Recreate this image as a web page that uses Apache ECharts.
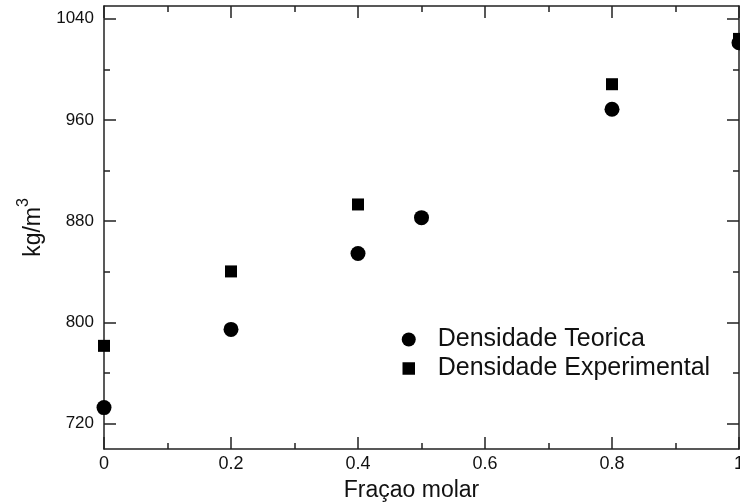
<!DOCTYPE html>
<html>
<head>
<meta charset="utf-8">
<script src="https://cdn.jsdelivr.net/npm/echarts@6/dist/echarts.min.js"></script>
<style>
  html, body { margin: 0; padding: 0; background: #fff; }
  #chart { width: 740px; height: 502px; }
</style>
</head>
<body>
<div id="chart"></div>
<script>
// dados
const fracao = [0, 0.2, 0.4, 0.5, 0.8, 1];
const densTeorica = [732.7, 794.5, 854.5, 882.8, 968.4, 1021];
const fracaoExp = [0, 0.2, 0.4, 0.8, 1];
const densExperimental = [781.5, 840.3, 893.2, 988.2, 1024];
const yMajor = [720, 800, 880, 960, 1040];
const yMinor = [760, 840, 920, 1000];

const font = "Liberation Sans";
const lineColor = "#222";

function yAx(pos, ticks, withLabels, len, showLine) {
  return {
    type: "value",
    position: pos,
    min: 700,
    max: 1050,
    splitLine: { show: false },
    axisLine: { show: showLine, lineStyle: { color: lineColor, width: 1.5 } },
    axisTick: {
      show: true,
      inside: true,
      length: len,
      customValues: ticks,
      lineStyle: { color: lineColor, width: 1.5 },
    },
    axisLabel: withLabels
      ? {
          show: true,
          customValues: ticks,
          formatter: (v) => String(v),
          color: "#111",
          fontSize: 17,
          fontFamily: font,
          margin: 10,
        }
      : { show: false },
  };
}

function xAx(pos, withLabels) {
  return {
    type: "value",
    position: pos,
    min: 0,
    max: 1,
    interval: 0.2,
    splitLine: { show: false },
    axisLine: { show: true, onZero: false, lineStyle: { color: lineColor, width: 1.5 } },
    axisTick: { show: true, inside: true, length: 12, lineStyle: { color: lineColor, width: 1.5 } },
    minorTick: { show: true, splitNumber: 2, length: 6, lineStyle: { color: lineColor, width: 1.5 } },
    axisLabel: withLabels
      ? { show: true, formatter: (v) => String(v), color: "#111", fontSize: 18, fontFamily: font, margin: 6 }
      : { show: false },
  };
}

const chart = echarts.init(document.getElementById("chart"));

const xBottom = xAx("bottom", true);
xBottom.name = "Fraçao molar";
xBottom.nameLocation = "middle";
xBottom.nameGap = 30;
xBottom.nameTextStyle = { fontSize: 23, fontFamily: font, color: "#111", padding: [0, 20, 0, 0] };

const yLeft = yAx("left", yMajor, true, 12, true);
yLeft.name = "{a|kg/m}{b|3}";
yLeft.nameLocation = "middle";
yLeft.nameGap = 42;
yLeft.nameRotate = 90;
yLeft.nameTextStyle = {
  rich: {
    a: { fontSize: 23, fontFamily: font, color: "#111", lineHeight: 30, verticalAlign: "bottom" },
    b: { fontSize: 16, fontFamily: font, color: "#111", lineHeight: 30, verticalAlign: "top" },
  },
};

const options = {
  animation: false,
  backgroundColor: "#fff",
  grid: { left: 104, right: 1, top: 6, bottom: 53, containLabel: false, outerBoundsMode: "none" },
  legend: {
    orient: "vertical",
    left: 396,
    top: 322,
    itemGap: 4,
    itemWidth: 14,
    itemHeight: 14,
    textStyle: { fontSize: 25, fontFamily: font, color: "#111", padding: [0, 0, 0, 17] },
    data: [
      { name: "Densidade Teorica", icon: "circle" },
      { name: "Densidade Experimental", icon: "rect", itemStyle: { borderWidth: 1.5, borderColor: "#fff" } },
    ],
  },
  xAxis: [xBottom, xAx("top", false)],
  yAxis: [
    yLeft,
    yAx("left", yMinor, false, 6, false),
    yAx("right", yMajor, false, 12, true),
    yAx("right", yMinor, false, 6, false),
  ],
  series: [
    {
      name: "Densidade Teorica",
      type: "scatter",
      symbol: "circle",
      symbolSize: 15,
      itemStyle: { color: "#000", opacity: 1 },
      data: fracao.map((x, i) => [x, densTeorica[i]]),
      clip: false,
      z: 3,
    },
    {
      name: "Densidade Experimental",
      type: "scatter",
      symbol: "rect",
      symbolSize: 12,
      itemStyle: { color: "#000", opacity: 1 },
      data: fracaoExp.map((x, i) => [x, densExperimental[i]]),
      clip: false,
      z: 3,
    },
  ],
};

chart.setOption(options);
</script>
</body>
</html>
